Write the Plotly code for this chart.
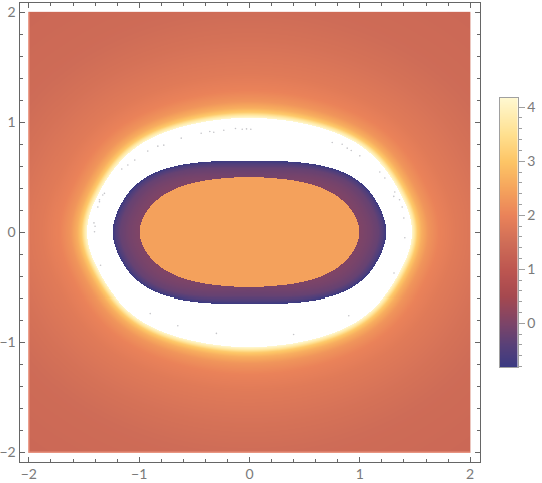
import numpy as np
import plotly.graph_objects as go

# --- boundaries (first quadrant, shape is symmetric) ---
WHITE_EDGE_X = [1.475, 1.396, 1.351, 1.23, 1.079, 0.927, 0.716, 0.417, 0.0]
WHITE_EDGE_Y = [0.0, 0.296, 0.387, 0.575, 0.734, 0.834, 0.925, 1.005, 1.04]
RING_EDGE_X = [1.242, 1.23, 1.2, 1.124, 1.004, 0.852, 0.716, 0.417, 0.0]
RING_EDGE_Y = [0.0, 0.085, 0.19, 0.326, 0.448, 0.54, 0.596, 0.632, 0.65]
CORE_EDGE_X = [0.997, 0.958, 0.913, 0.791, 0.671, 0.562, 0.326, 0.0]
CORE_EDGE_Y = [0.0, 0.13, 0.221, 0.326, 0.395, 0.432, 0.48, 0.5]

# values against distance from the edges
GLOW_DIST = [0.0, 0.02, 0.05, 0.09, 0.15, 0.25, 0.4, 0.7, 1.0, 1.5, 2.0]
GLOW_VALUE = [4.17, 3.8, 3.1, 2.65, 2.28, 2.0, 1.82, 1.62, 1.47, 1.4, 1.35]
RING_DIST = [0.0, 0.03, 0.07, 0.15, 0.25, 0.4]
RING_VALUE = [-0.81, -0.5, -0.25, -0.08, 0.05, 0.2]
CORE_VALUE = 2.45

# the grey specks left in the white band
SPECK_X = [-.438, -.619, -.777, -.831, -.922, -1.04, -1.103, -1.158, -1.315, -1.33, -1.36, -1.36,
           -1.375, -1.41, -1.40, -1.405, -.36, -.324, -.233, -.127, -.066, -.027, .012, .75, .84,
           .886, .922, 1.0, 1.181, 1.227, 1.317, 1.308, 1.36, 1.384, 1.399, 1.408,
           -.9, -.3, 1.31, -1.35, .9, -.65, .4]
SPECK_Y = [.901, .856, .792, .783, .738, .656, .611, .575, .354, .339, .296, .278,
           .23, .085, .054, .004, .916, .91, .928, .943, .937, .94, .937, .816, .80,
           .765, .743, .695, .548, .493, .366, .326, .296, .23, .13, -.05,
           -.74, -.92, -.37, -.3, -.76, -.85, -.93]

# pale line along the left and bottom edge of the density
EDGE_X = [-2, -2, 2]
EDGE_Y = [2, -2, -2]

COLORS = [
    [-0.81, "#3a3a82"], [-0.4, "#584078"], [0.0, "#7c4468"], [0.5, "#a5484f"],
    [1.0, "#bd5650"], [1.5, "#cf6d57"], [2.0, "#ea8259"], [2.5, "#f5a45c"],
    [3.0, "#fdc566"], [3.5, "#ffe08f"], [4.17, "#fff8d0"],
]
ZMIN, ZMAX = -0.81, 4.17
COLORSCALE = [[(v - ZMIN) / (ZMAX - ZMIN), c] for v, c in COLORS]

GREY = "#666666"
FONT = dict(family="Lato", size=14, color="#7a7a7a")


def edge_radius(X, Y, xs, ys):
    # radius of a boundary along the ray through each grid point.
    # works on the ellipse through the two axis crossings, plus a smooth bulge fitted to the points read
    xs, ys = np.array(xs), np.array(ys)
    a, b = xs[0], ys[-1]
    rho = np.hypot(xs[1:-1] / a, ys[1:-1] / b)
    phi = np.arctan2(ys[1:-1] / b, xs[1:-1] / a)
    s2 = np.sin(2 * phi) ** 2
    coeffs = np.polyfit(np.cos(2 * phi), (rho - 1) / s2, 2, w=s2)

    grid_rho = np.hypot(X / a, Y / b)
    grid_phi = np.arctan2(np.abs(Y) / b, np.abs(X) / a)
    edge_rho = 1 + np.sin(2 * grid_phi) ** 2 * np.polyval(coeffs, np.cos(2 * grid_phi))
    return np.hypot(X, Y) * edge_rho / grid_rho


n = 440
xs = np.linspace(-2, 2, n)
ys = np.linspace(-2, 2, n)
X, Y = np.meshgrid(xs, ys)
R = np.hypot(X, Y)

r_white = edge_radius(X, Y, WHITE_EDGE_X, WHITE_EDGE_Y)
r_ring = edge_radius(X, Y, RING_EDGE_X, RING_EDGE_Y)
r_core = edge_radius(X, Y, CORE_EDGE_X, CORE_EDGE_Y)

Z = np.interp(R - r_white, GLOW_DIST, GLOW_VALUE)
Z[R < r_white] = np.nan  # out of range, comes out white
ring = R < r_ring
Z[ring] = np.interp(r_ring[ring] - R[ring], RING_DIST, RING_VALUE)
Z[R < r_core] = CORE_VALUE

fig = go.Figure()

fig.add_trace(go.Heatmap(
    x=xs, y=ys, z=Z, colorscale=COLORSCALE, zmin=ZMIN, zmax=ZMAX,
    showscale=False, hoverinfo="skip", xaxis="x", yaxis="y",
))
fig.add_trace(go.Scatter(
    x=SPECK_X, y=SPECK_Y, mode="markers", xaxis="x", yaxis="y",
    marker=dict(size=1.6, color="#c4c4c8"), hoverinfo="skip", showlegend=False,
))
fig.add_trace(go.Scatter(
    x=EDGE_X, y=EDGE_Y, mode="lines", xaxis="x", yaxis="y",
    line=dict(width=1, color="#f3a08c"), hoverinfo="skip", showlegend=False,
))

# legend bar as its own small axes, so it can have minor ticks
bar_levels = np.linspace(ZMIN, ZMAX, 270)
fig.add_trace(go.Heatmap(
    x=[0, 1], y=bar_levels, z=np.column_stack([bar_levels, bar_levels]),
    colorscale=COLORSCALE, zmin=ZMIN, zmax=ZMAX,
    showscale=False, hoverinfo="skip", xaxis="x2", yaxis="y2",
))

frame = dict(
    range=[-2.085, 2.085], showgrid=False, zeroline=False, showline=True, linecolor=GREY,
    linewidth=1, mirror="ticks", ticks="inside", ticklen=5, tickcolor=GREY, tickwidth=1,
    tickmode="array", tickvals=[-2, -1, 0, 1, 2], ticktext=["\u22122", "\u22121", "0", "1", "2"],
    tickfont=FONT,
    minor=dict(ticks="inside", ticklen=3, tickcolor=GREY, tickwidth=1, dtick=0.2, tick0=0, showgrid=False),
)

fig.update_layout(
    width=542, height=483, autosize=False,
    margin=dict(l=0, r=0, t=0, b=0),
    paper_bgcolor="white", plot_bgcolor="white", showlegend=False,
    xaxis=dict(frame, domain=[19.5 / 542, 479.5 / 542], anchor="y"),
    yaxis=dict(frame, domain=[21.5 / 483, 480 / 483], anchor="x"),
    xaxis2=dict(domain=[499.5 / 542, 517.5 / 542], anchor="y2", range=[0, 1], showgrid=False,
                zeroline=False, showticklabels=False, ticks="", showline=True, mirror=True,
                linecolor="#a0a0a0", linewidth=1),
    yaxis2=dict(domain=[116 / 483, 385 / 483], anchor="x2", side="right", range=[ZMIN, ZMAX],
                showgrid=False, zeroline=False, showline=True, mirror=True, linecolor="#a0a0a0",
                linewidth=1, ticks="outside", ticklen=6, tickcolor="#a0a0a0", tickmode="array",
                tickvals=[0, 1, 2, 3, 4], tickfont=FONT,
                minor=dict(ticks="outside", ticklen=3, tickcolor="#a0a0a0", dtick=0.2, tick0=0,
                           showgrid=False)),
)

# page body has a default margin, drop it so the figure sits at the window corner
fig.write_html("out.html", post_script="document.body.style.margin='0';",
               config=dict(displayModeBar=False))
